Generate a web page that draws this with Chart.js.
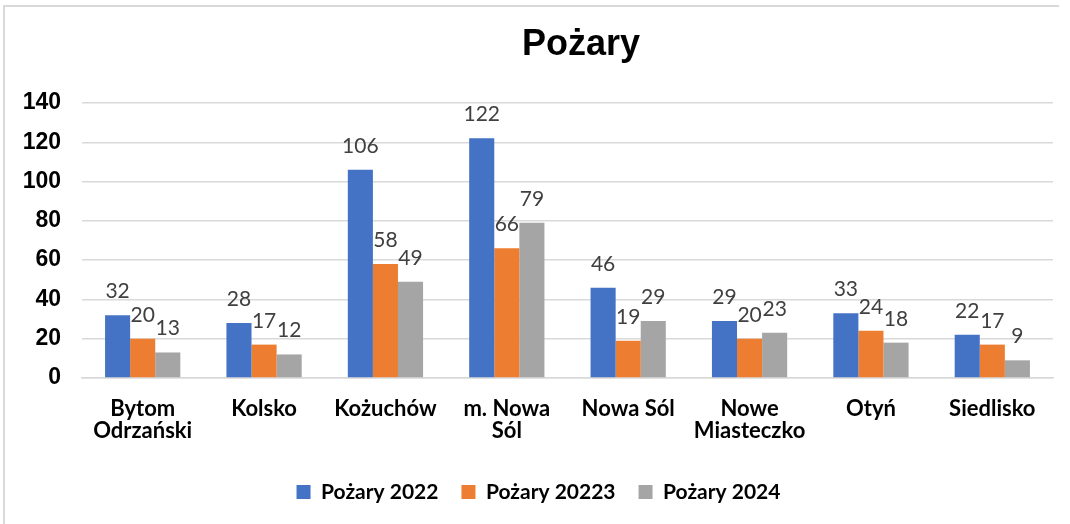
<!DOCTYPE html>
<html lang="pl">
<head>
<meta charset="utf-8">
<title>Pożary</title>
<script src="https://cdn.jsdelivr.net/npm/chart.js@4"></script>
<style>
    html, body {
        margin: 0;
        padding: 0;
        background: #ffffff;
        overflow: hidden;
    }
    .chart-wrap {
        position: relative;
        width: 1070px;
        height: 524px;
    }
    .frame {
        position: absolute;
        left: 3px;
        top: 5px;
        width: 1054px;
        height: 600px;
        border-top: 2px solid #d9d9d9;
        border-left: 2px solid #d9d9d9;
        pointer-events: none;
    }
</style>
</head>
<body>
<div class="chart-wrap">
    <canvas id="fireChart" width="1070" height="524"></canvas>
    <div class="frame"></div>
</div>
<script>
// Chart data
const chartTitle = 'Pożary';
const categories = [
    ['Bytom', 'Odrzański'],
    'Kolsko',
    'Kożuchów',
    ['m. Nowa', 'Sól'],
    'Nowa Sól',
    ['Nowe', 'Miasteczko'],
    'Otyń',
    'Siedlisko'
];
const seriesNames = ['Pożary 2022', 'Pożary 20223', 'Pożary 2024'];
const fires2022 = [32, 28, 106, 122, 46, 29, 33, 22];
const fires2023 = [20, 17, 58, 66, 19, 20, 24, 17];
const fires2024 = [13, 12, 49, 79, 29, 23, 18, 9];
const yTicks = [0, 20, 40, 60, 80, 100, 120, 140];

const seriesColors = ['#4472C4', '#ED7D31', '#A5A5A5'];

document.addEventListener('DOMContentLoaded', function() {
    initializeChart();
});

/**
 * Draws value labels above each bar
 */
const barLabelsPlugin = {
    id: 'barLabels',
    afterDatasetsDraw(chart) {
        const ctx = chart.ctx;
        ctx.save();
        ctx.font = '21px Lato, "Open Sans", sans-serif';
        ctx.fillStyle = '#404040';
        ctx.textAlign = 'center';
        ctx.textBaseline = 'alphabetic';
        chart.data.datasets.forEach((dataset, i) => {
            const meta = chart.getDatasetMeta(i);
            meta.data.forEach((bar, j) => {
                ctx.fillText(String(dataset.data[j]), bar.x, bar.y - 17);
            });
        });
        ctx.restore();
    }
};

/**
 * Draws the title and nudges the legend a little to the right
 */
const titlePlugin = {
    id: 'frameTitle',
    afterLayout(chart) {
        // legend sits slightly right of the canvas centre in the original
        if (chart.legend) {
            chart.legend.left += 12;
            chart.legend.right += 12;
        }
    },
    afterDraw(chart) {
        const ctx = chart.ctx;
        ctx.save();
        ctx.font = 'bold 36px "Liberation Sans", Arial, sans-serif';
        ctx.fillStyle = '#000000';
        ctx.textAlign = 'center';
        ctx.textBaseline = 'alphabetic';
        ctx.fillText(chartTitle, 581, 55);
        ctx.restore();
    }
};

/**
 * Initializes the grouped bar chart
 */
function initializeChart() {
    const ctx = document.getElementById('fireChart');
    const seriesData = [fires2022, fires2023, fires2024];

    new Chart(ctx, {
        type: 'bar',
        data: {
            labels: categories,
            datasets: seriesNames.map((name, i) => ({
                label: name,
                data: seriesData[i],
                backgroundColor: seriesColors[i],
                borderWidth: 0,
                categoryPercentage: 0.62,
                barPercentage: 1.0
            }))
        },
        options: {
            responsive: false,
            animation: false,
            devicePixelRatio: 1,
            layout: {
                padding: { top: 103, right: 17, bottom: 11.5, left: 0 }
            },
            plugins: {
                title: { display: false },
                tooltip: { enabled: false },
                legend: {
                    position: 'bottom',
                    labels: {
                        color: '#000000',
                        boxWidth: 14,
                        boxHeight: 14,
                        padding: 23,
                        font: { family: 'Lato, "Open Sans", sans-serif', size: 21, weight: 'bold' }
                    }
                }
            },
            scales: {
                x: {
                    grid: { display: false, drawTicks: false },
                    border: { display: true, color: '#d9d9d9', width: 1.5 },
                    ticks: {
                        color: '#000000',
                        padding: 20,
                        maxRotation: 0,
                        autoSkip: false,
                        font: { family: 'Lato, "Open Sans", sans-serif', size: 22, weight: 'bold', lineHeight: 1.0 }
                    },
                    afterFit: function(scale) {
                        scale.height = 80.5;
                    }
                },
                y: {
                    min: 0,
                    max: 140,
                    afterBuildTicks: function(scale) {
                        scale.ticks = yTicks.map(v => ({ value: v }));
                    },
                    grid: { color: '#d9d9d9', lineWidth: 1.5, drawTicks: false },
                    border: { display: false },
                    ticks: {
                        color: '#000000',
                        padding: 21,
                        font: { family: '"Liberation Sans", Arial, sans-serif', size: 23, weight: 'bold' }
                    },
                    afterFit: function(scale) {
                        scale.width = 82;
                    }
                }
            }
        },
        plugins: [barLabelsPlugin, titlePlugin]
    });
}
</script>
</body>
</html>
